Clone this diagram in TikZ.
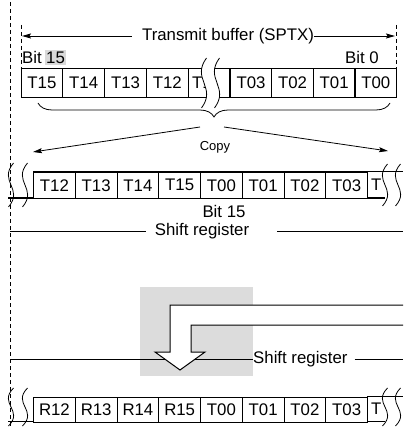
\documentclass[tikz,border=0pt]{standalone}
\usepackage{fontspec}
\setmainfont{Liberation Sans}
\usetikzlibrary{arrows.meta,decorations.pathreplacing}
\definecolor{panel}{HTML}{DCDCDC}
\definecolor{hilite}{HTML}{D9D9D9}
\newcommand\wavecurve[3]{%
  \draw[waveline] ({#1+2.5},#2) .. controls ({#1-13},{#2+0.42*(#3-#2)}) and ({#1+13},{#3-0.42*(#3-#2)}) .. ({#1-2.5},#3);}
\newcommand\wavegap[4]{%
  \fill[white] ({#1+2.5},#3) .. controls ({#1-13},{#3+0.42*(#4-#3)}) and ({#1+13},{#4-0.42*(#4-#3)}) .. ({#1-2.5},#4)
    -- ({#2-2.5},#4) .. controls ({#2+13},{#4-0.42*(#4-#3)}) and ({#2-13},{#3+0.42*(#4-#3)}) .. ({#2+2.5},#3) -- cycle;}
\begin{document}
\begin{tikzpicture}[x=1pt,y=-1pt,
  font=\fontsize{16.8}{19}\selectfont,
  cellA/.style={draw, line width=1.1pt, minimum width=41.7pt, minimum height=29pt, inner sep=0pt, anchor=north west},
  cellB/.style={draw, line width=1.1pt, minimum width=41.75pt, minimum height=26.5pt, inner sep=0pt, anchor=north west},
  cellC/.style={draw, line width=1.1pt, minimum width=41.75pt, minimum height=25pt, inner sep=0pt, anchor=north west},
  waveline/.style={line width=0.8pt},
  frameline/.style={line width=1.1pt},
  guide/.style={dashed, dash pattern=on 4pt off 3pt, line width=0.8pt},
  thinline/.style={line width=0.8pt},
  tip/.style={-{Stealth[length=9pt,width=5pt,inset=1.5pt]}, line width=0.8pt},
  lbl/.style={inner sep=0pt}]
\useasboundingbox (0,0) rectangle (403,427);

% dashed guides
\coordinate (gA1) at (10,2); \coordinate (gA2) at (10,427);
\draw[guide] (gA1) -- (gA2);
\coordinate (gB1) at (21,25); \coordinate (gB2) at (21,68);
\draw[guide] (gB1) -- (gB2);
\coordinate (gC1) at (396,25); \coordinate (gC2) at (396,68);
\draw[guide] (gC1) -- (gC2);

% transmit buffer arrow
\node[lbl] (tb) at (228,36) {Transmit buffer (SPTX)};
\coordinate (tbL) at (22,36); \coordinate (tbR) at (395,36);
\draw[tip] ([xshift=-10pt]tb.west) -- (tbL);
\draw[tip] (tb.east) -- (tbR);

% bit labels
\node[lbl, anchor=west] (bitw) at (22,57.5) {Bit};
\node[fill=hilite, inner xsep=1pt, inner ysep=2pt, anchor=west] (bit15) at (45,57.5) {15};
\node[lbl, anchor=east] (bit0) at (379,57.5) {Bit 0};

% top row
\foreach \i/\t in {0/T15,1/T14,2/T13,3/T12}
  \node[cellA] (top\i) at ({20.5+41.8*\i},68) {\t};
\node[cellA] (top4) at (187.7,68) {};
\node[lbl, anchor=west] (top4t) at (192,82.5) {T1};
\foreach \i/\t in {0/T03,1/T02,2/T01,3/T00}
  \node[cellA] (topr\i) at ({229.6+41.6*\i},68) {\t};
\wavegap{204}{217}{58}{108}
\wavecurve{204}{58}{108}
\wavecurve{217}{58}{108}

% brace and copy arrows
\coordinate (brL) at (38,103); \coordinate (brR) at (390,103);
\draw[thinline, decorate, decoration={brace, mirror, amplitude=14pt}] (brL) -- (brR);
\coordinate (cpA) at (200,127); \coordinate (cpB) at (33,152);
\coordinate (cpC) at (224,127); \coordinate (cpD) at (388,151);
\draw[tip] (cpA) -- (cpB);
\draw[tip] (cpC) -- (cpD);
\node[lbl, font=\fontsize{13}{15}\selectfont] (copy) at (215,147) {Copy};

% middle row
\foreach \i/\t in {0/T12,1/T13,2/T14,3/T15,4/T00,5/T01,6/T02,7/T03}
  \node[cellB] (mid\i) at ({33+41.75*\i},171.5) {\t};
\node[lbl, anchor=west] (mid8t) at (371,185) {T};
\coordinate (mA) at (367,171.5); \coordinate (mB) at (403,171.5);
\draw[frameline] (mA) -- (mB);
\coordinate (mC) at (367,198); \coordinate (mD) at (385,198);
\draw[frameline] (mC) -- (mD);
\coordinate (mE) at (8,198); \coordinate (mF) at (33,198);
\draw[frameline] (mE) -- (mF);
\wavecurve{11}{163}{207}
\wavecurve{25}{163}{207}
\wavecurve{385}{164}{206}
\wavecurve{398}{164}{206}
\node[lbl] (midbit) at (224,211) {Bit 15};

% shift register 1
\node[lbl] (sr1) at (202,231) {Shift register};
\coordinate (s1L) at (10,231); \coordinate (s1R) at (403,231);
\draw[thinline] (s1L) -- ([xshift=-9pt]sr1.west);
\draw[thinline] ([xshift=28pt]sr1.east) -- (s1R);

% gray panel and hollow arrow
\fill[panel] (140,287) rectangle (253,376);
\node[lbl, anchor=west] (sr2) at (253,359) {Shift register};
\coordinate (s2L) at (10,359); \coordinate (s2R) at (403,359);
\draw[thinline] (s2L) -- (sr2.west);
\draw[thinline] ([xshift=7pt]sr2.east) -- (s2R);
\coordinate (h1) at (403,305); \coordinate (h2) at (170,305); \coordinate (h3) at (170,352);
\coordinate (h4) at (155,352); \coordinate (h5) at (180,370); \coordinate (h6) at (205,352);
\coordinate (h7) at (191,352); \coordinate (h8) at (191,325); \coordinate (h9) at (403,325);
\draw[fill=white, line width=1pt, line join=miter] (h1) -- (h2) -- (h3) -- (h4) -- (h5) -- (h6) -- (h7) -- (h8) -- (h9);

% bottom row
\foreach \i/\t in {0/R12,1/R13,2/R14,3/R15,4/T00,5/T01,6/T02,7/T03}
  \node[cellC] (bot\i) at ({33+41.75*\i},396.5) {\t};
\node[lbl, anchor=west] (bot8t) at (371,409) {T};
\coordinate (bA) at (367,396.5); \coordinate (bB) at (403,396.5);
\draw[frameline] (bA) -- (bB);
\coordinate (bC) at (367,421.5); \coordinate (bD) at (385,421.5);
\draw[frameline] (bC) -- (bD);
\coordinate (bE) at (8,421.5); \coordinate (bF) at (33,421.5);
\draw[frameline] (bE) -- (bF);
\wavecurve{11}{388}{426}
\wavecurve{25}{388}{426}
\wavecurve{385}{388}{426}
\wavecurve{398}{388}{426}
\end{tikzpicture}
\end{document}
